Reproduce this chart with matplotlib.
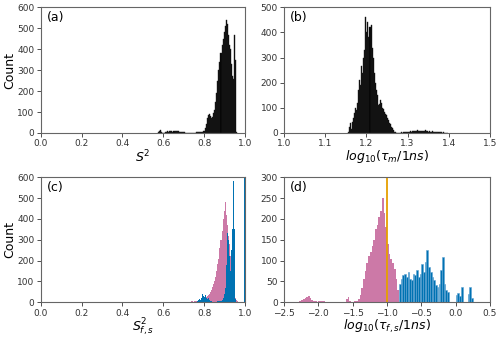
import numpy as np
import matplotlib
matplotlib.use('Agg')
import matplotlib.pyplot as plt

# histogram counts (bin start, bin width, counts)
s2_start, s2_width = 0.575, 0.005
s2_counts = [3, 10, 12, 5, 2, 1, 2, 3, 6, 8, 7, 9, 8, 10, 7, 9, 8, 10, 9, 8,
             7, 6, 5, 4, 3, 3, 2, 1, 1, 0, 0, 0, 0, 1, 1, 1, 2, 3, 5, 6,
             5, 4, 6, 5, 8, 10, 25, 45, 70, 88, 90, 82, 72, 78, 95, 110, 150, 190, 250, 300,
             340, 380, 420, 450, 480, 510, 540, 520, 470, 420, 400, 330, 270, 260, 470, 350, 5]

taum_start, taum_width = 1.155, 0.0025
taum_counts = [5, 25, 40, 15, 45, 60, 80, 100, 90, 120, 170, 210, 190, 265, 240, 300,
               330, 460, 400, 440, 380, 420, 430, 340, 300, 240, 200, 170, 150, 110,
               115, 130, 120, 100, 95, 85, 75, 70, 60, 50, 40, 35, 25, 20, 10, 5, 2,
               1, 1, 0, 1, 1, 2, 1, 2, 3, 3, 4, 5, 4, 6, 5, 7, 6, 8, 7, 9, 10, 8, 9,
               7, 8, 6, 9, 7, 10, 6, 7, 5, 8, 5, 4, 6, 3, 4, 3, 2, 3, 2, 2, 3, 1, 2,
               1, 1, 1, 0]

# S2_f (pink) and S2_s (blue)
s2f_start, s2f_width = 0.73, 0.005
s2f_counts = [3, 5, 4, 3, 5, 4, 6, 5, 8, 6, 10, 12, 10, 15, 18, 22, 25, 30, 35, 40,
              50, 60, 75, 90, 100, 120, 150, 185, 210, 260, 300, 340, 400, 440, 480,
              420, 370, 320, 280, 220, 170, 120, 70, 40, 20, 10, 5, 2]
s2s_start, s2s_width = 0.765, 0.005
s2s_counts = [5, 10, 15, 12, 20, 42, 30, 25, 35, 20, 15, 20, 10, 8, 5, 3, 2, 2, 3, 3,
              4, 5, 6, 8, 12, 20, 40, 70, 180, 335, 300, 220, 150, 250, 350, 580, 350,
              15, 0, 0, 0, 0, 0, 0, 0, 0, 900]

# log10 tau_f (pink) and log10 tau_s (blue)
tauf_start, tauf_width = -2.275, 0.025
tauf_counts = [2, 5, 8, 10, 13, 14, 11, 6, 3, 2, 1, 3, 4, 2, 3, 1, 1, 0, 0, 0,
               0, 0, 0, 0, 0, 0, 0, 8, 12, 2, 1, 1, 2,
               3, 8, 18, 35, 55, 75, 95, 110, 120, 135, 150, 175, 185, 205, 220, 250,
               215, 180, 140, 115, 105, 95, 80, 55, 30]
taus_start, taus_width = -0.825, 0.025
taus_counts = [45, 57, 65, 69, 60, 73, 57, 53, 69, 65, 77, 60, 69, 93, 73, 97, 125,
               85, 73, 60, 53, 41, 37, 45, 77, 109, 45, 30, 24, 0, 0, 0, 0, 18, 22,
               15, 37, 0, 0, 0, 20, 37, 10]
tau_cut = -1.0

pink = '#cc79a7'
blue = '#0072b2'
orange = '#e69f00'


def edges(start, width, counts):
    return start + width * np.arange(len(counts))


fig = plt.figure(figsize=(5.0, 3.39), dpi=100)
axa = fig.add_axes([0.0814, 0.6077, 0.4086, 0.3708])
axb = fig.add_axes([0.568, 0.6077, 0.412, 0.3708])
axc = fig.add_axes([0.0814, 0.1083, 0.4086, 0.3687])
axd = fig.add_axes([0.568, 0.1083, 0.412, 0.3687])

axa.bar(edges(s2_start, s2_width, s2_counts), s2_counts, width=s2_width,
        align='edge', color='black', edgecolor='#222222', linewidth=0.3)
axb.bar(edges(taum_start, taum_width, taum_counts), taum_counts, width=taum_width,
        align='edge', color='black', edgecolor='#222222', linewidth=0.3)

axc.bar(edges(s2f_start, s2f_width, s2f_counts), s2f_counts, width=s2f_width,
        align='edge', color=pink, linewidth=0)
axc.bar(edges(s2s_start, s2s_width, s2s_counts), s2s_counts, width=s2s_width,
        align='edge', color=blue, linewidth=0)

axd.bar(edges(tauf_start, tauf_width, tauf_counts), tauf_counts, width=tauf_width,
        align='edge', color=pink, linewidth=0)
axd.bar(edges(taus_start, taus_width, taus_counts), taus_counts, width=taus_width,
        align='edge', color=blue, edgecolor='#5fa3d3', linewidth=0.4)
axd.axvline(tau_cut, color=orange, linewidth=1.3)

axa.set_xlim(0, 1.0)
axa.set_ylim(0, 600)
axb.set_xlim(1.0, 1.5)
axb.set_ylim(0, 500)
axc.set_xlim(0, 1.0)
axc.set_ylim(0, 600)
axd.set_xlim(-2.5, 0.5)
axd.set_ylim(0, 300)

axa.set_xticks(np.arange(0, 1.01, 0.2))
axc.set_xticks(np.arange(0, 1.01, 0.2))
axb.set_xticks(np.arange(1.0, 1.51, 0.1))
axd.set_xticks(np.arange(-2.5, 0.51, 0.5))

axa.set_xlabel('$S^2$', fontsize=9, labelpad=0)
axb.set_xlabel('$log_{10}(\\tau_m/1ns)$', fontsize=9, labelpad=0)
axc.set_xlabel('$S^2_{f,s}$', fontsize=9, labelpad=-1)
axd.set_xlabel('$log_{10}(\\tau_{f,s}/1ns)$', fontsize=9, labelpad=0)
axa.set_ylabel('Count', fontsize=9, labelpad=1)
axc.set_ylabel('Count', fontsize=9, labelpad=1)

for ax, lab in zip([axa, axb, axc, axd], ['(a)', '(b)', '(c)', '(d)']):
    ax.text(0.03, 0.92, lab, transform=ax.transAxes, fontsize=9, va='center', ha='left')
    ax.tick_params(labelsize=6.5, length=3, width=0.6, pad=1.5, colors='#333333')
    for sp in ax.spines.values():
        sp.set_color('#666666')
        sp.set_linewidth(0.8)

fig.savefig('out.png', dpi=100)
